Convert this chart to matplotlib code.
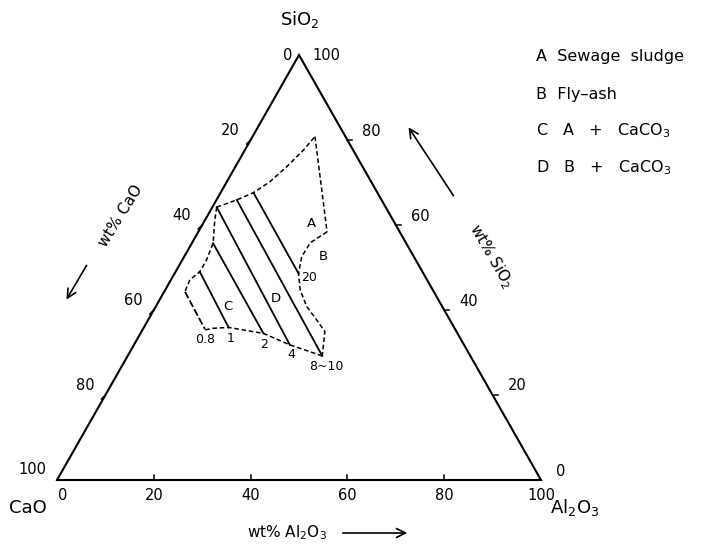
import matplotlib
matplotlib.use("Agg")
import matplotlib.pyplot as plt
from matplotlib.patches import FancyArrowPatch

W, H = 704, 550

# ---- data: compositions as (CaO, SiO2, Al2O3) wt% ----
top_arc = [(34.9, 64.2, 0.9), (29.9, 65.9, 4.2), (25.6, 67.6, 6.8), (20.9, 70.2, 8.9),
           (15.7, 73.7, 10.6), (10.3, 77.6, 12.1), (6.3, 80.8, 12.9)]
a_right = [(6.3, 80.8, 12.9), (15.0, 58.4, 26.6)]
b_arc = [(15.0, 58.4, 26.6), (19.8, 55.8, 24.4), (23.2, 52.5, 24.3), (25.8, 48.6, 25.6),
         (27.4, 44.7, 27.9), (28.0, 40.8, 31.2), (27.5, 37.6, 34.9), (27.2, 34.9, 37.9),
         (30.6, 29.2, 40.2)]
bottom_arc = [(30.6, 29.2, 40.2), (36.0, 31.8, 32.2), (40.1, 34.5, 25.4), (46.6, 35.9, 17.5),
              (49.9, 35.7, 14.4), (51.8, 35.3, 12.9)]
left_arc = [(34.9, 64.2, 0.9), (36.8, 61.2, 2.0), (39.9, 55.7, 4.4), (43.2, 51.8, 5.0),
            (46.0, 49.0, 5.0), (49.0, 47.1, 3.9), (50.4, 45.5, 4.1), (51.4, 44.3, 4.3)]

iso_labels = ["0.8", "1", "2", "4", "8~10", "20"]
iso_start = [(51.4, 44.3, 4.3), (46.0, 49.0, 5.0), (39.9, 55.7, 4.4),
             (34.9, 64.2, 0.9), (29.9, 65.9, 4.2), (25.6, 67.6, 6.8)]
iso_end = [(51.7, 35.5, 12.8), (46.6, 35.9, 17.5), (40.1, 34.5, 25.4),
           (36.0, 31.8, 32.2), (30.6, 29.2, 40.2), (25.8, 48.6, 25.6)]

region_labels = ["A", "B", "C", "D"]
region_pos = [(17.2, 60.4, 22.4), (18.7, 52.5, 28.8), (44.2, 40.8, 15.0), (33.4, 42.8, 23.8)]

legend_lines = ["A  Sewage  sludge", "B  Fly\u2013ash",
                "C   A   +   CaCO$_3$", "D   B   +   CaCO$_3$"]
tick_values = [0, 20, 40, 60, 80, 100]


def xy(c):
    ca, si, al = c
    s = ca + si + al
    return (al + si / 2.0) * 100.0 / s, si * 100.0 / s


def xs_ys(pts):
    p = [xy(c) for c in pts]
    return [a for a, b in p], [b for a, b in p]


fig = plt.figure(figsize=(W / 100, H / 100), dpi=100)
fig.patch.set_facecolor("white")
ax = fig.add_axes([57 / W, (H - 480) / H, 484 / W, 425 / H])
ax.set_xlim(0, 100)
ax.set_ylim(0, 100)
ax.axis("off")
pxx = 484 / 100.0
pxy = 425 / 100.0

# triangle
tri = [(100, 0, 0), (0, 0, 100), (0, 100, 0), (100, 0, 0)]
tx, ty = xs_ys(tri)
ax.plot(tx, ty, color="black", lw=1.5, clip_on=False, solid_joinstyle="miter")

# ticks
for v in tick_values[1:-1]:
    ax.plot([v, v], [0, 5 / pxy], color="black", lw=1.1, clip_on=False)
    x0, y0 = 100 - v / 2.0, v
    ax.plot([x0, x0 + 5 / pxx], [y0, y0], color="black", lw=1.1, clip_on=False)
    x1, y1 = (100 - v) / 2.0, 100 - v
    ax.plot([x1, x1 - 4 / pxx], [y1, y1 - 4 / pxy], color="black", lw=1.1, clip_on=False)

# tick labels
tfs = 10.5
for v in tick_values:
    ax.annotate(str(v), xy=(v, 0), xytext=(6 if v == 0 else 0, -15), textcoords="offset pixels",
                ha="center", va="center", fontsize=tfs, annotation_clip=False)
    roff = (13, 0) if v == 100 else (15, 9)
    ax.annotate(str(v), xy=(100 - v / 2.0, v), xytext=roff, textcoords="offset pixels",
                ha="left", va="center", fontsize=tfs, annotation_clip=False)
    loff = (-7, 0) if v == 0 else (-11, 10)
    ax.annotate(str(v), xy=((100 - v) / 2.0, 100 - v), xytext=loff, textcoords="offset pixels",
                ha="right", va="center", fontsize=tfs, annotation_clip=False)

# dashed boundaries
dash = (0, (3.0, 1.8))
for pts in [top_arc, a_right, b_arc, bottom_arc, left_arc]:
    x, y = xs_ys(pts)
    ax.plot(x, y, color="black", lw=1.1, ls=dash)

# iso lines
label_off = [(0, -10), (2, -11), (1, -11), (2, -10), (4, -11), (11, -4)]
for i, (lab, s, e) in enumerate(zip(iso_labels, iso_start, iso_end)):
    x, y = xs_ys([s, e])
    style = (0, (4, 1.5)) if i == 0 else "-"
    ax.plot(x, y, color="black", lw=1.3, ls=style)
    ax.annotate(lab, xy=xy(e), xytext=label_off[i], textcoords="offset pixels",
                ha="center", va="center", fontsize=9, annotation_clip=False)

for lab, p in zip(region_labels, region_pos):
    ax.text(*xy(p), lab, ha="center", va="center", fontsize=9.5)


def fpx(x, y):
    return x / W, 1 - y / H


# vertex labels
fig.text(*fpx(300, 20), "SiO$_2$", ha="center", va="center", fontsize=13)
fig.text(*fpx(28, 508), "CaO", ha="center", va="center", fontsize=13)
fig.text(*fpx(575, 508), "Al$_2$O$_3$", ha="center", va="center", fontsize=13)

# axis titles
fig.text(*fpx(287, 533), "wt% Al$_2$O$_3$", ha="center", va="center", fontsize=11)
fig.text(*fpx(121, 216), "wt% CaO", ha="center", va="center", fontsize=11, rotation=58)
fig.text(*fpx(491, 256), "wt% SiO$_2$", ha="center", va="center", fontsize=11, rotation=-60)

arrow_kw = dict(arrowstyle="->", lw=1.2, color="black", mutation_scale=16)
for tail, head in [((340, 533), (410, 533)), ((88, 263), (65, 302)), ((455, 198), (407, 125))]:
    fig.add_artist(FancyArrowPatch(fpx(*tail), fpx(*head), transform=fig.transFigure, **arrow_kw))

# legend
for i, t in enumerate(legend_lines):
    fig.text(*fpx(536, 57 + i * 37), t, ha="left", va="center", fontsize=11.5)

fig.savefig("out.png", dpi=100, facecolor="white")
